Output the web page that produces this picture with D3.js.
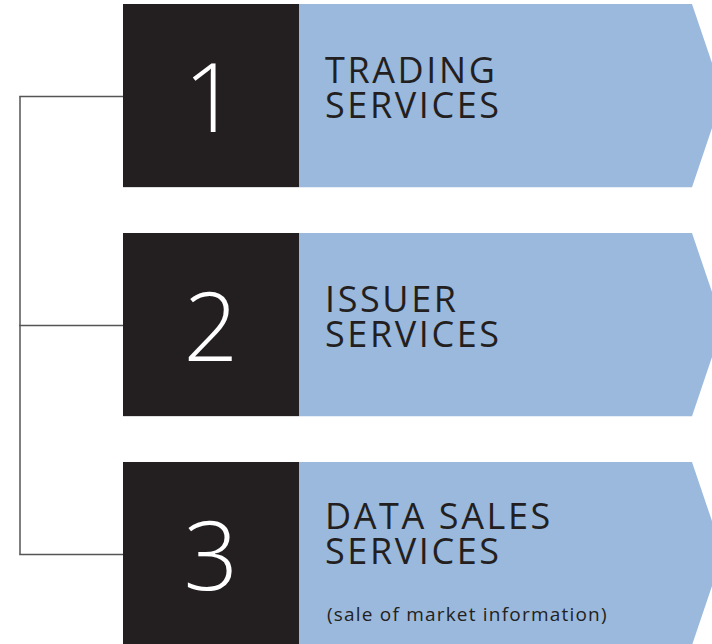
<!DOCTYPE html>
<html>
<head>
<meta charset="utf-8">
<script src="https://cdn.jsdelivr.net/npm/d3@7"></script>
<style>
  html, body { margin: 0; padding: 0; background: #fff; }
  svg { display: block; }
</style>
</head>
<body>
<div id="chart"></div>
<script>
// row content
var numbers = ['1', '2', '3'];
var titleLine1 = ['TRADING', 'ISSUER', 'DATA SALES'];
var titleLine2 = ['SERVICES', 'SERVICES', 'SERVICES'];
var subtitles = ['', '', '(sale of market information)'];

var width = 712,
  height = 644;

var dark = '#231f20',
  blue = '#9ab9dd';

var svg = d3.select('#chart')
  .append('svg')
  .attr('width', width)
  .attr('height', height);

// vertical placement of the three rows
var y = d3.scaleBand()
  .domain(numbers)
  .range([4, 645])
  .paddingInner(0.2)
  .paddingOuter(0);

var boxX = 123, boxW = 176, arrowEnd = 692, tipDepth = 31;

// connector on the left
var mids = numbers.map(function(d) { return Math.round(y(d)) + y.bandwidth() / 2 + 1; });
svg.append('path')
  .attr('d', 'M20,' + mids[0] + 'V' + mids[2])
  .attr('stroke', '#555')
  .attr('stroke-width', 1.5)
  .attr('fill', 'none');
svg.selectAll('line.tick')
  .data(mids)
  .enter()
  .append('line')
  .attr('class', 'tick')
  .attr('x1', 19.25)
  .attr('x2', boxX)
  .attr('y1', function(d) { return d; })
  .attr('y2', function(d) { return d; })
  .attr('stroke', '#555')
  .attr('stroke-width', 1.5);

var row = svg.selectAll('g.row')
  .data(numbers)
  .enter()
  .append('g')
  .attr('class', 'row')
  .attr('transform', function(d) { return 'translate(0,' + Math.round(y(d)) + ')'; });

var h = y.bandwidth();

// blue chevron
row.append('path')
  .attr('d', 'M' + (boxX + boxW) + ',0H' + arrowEnd + 'L' + (arrowEnd + tipDepth) + ',' + (h / 2) +
    'L' + arrowEnd + ',' + h + 'H' + (boxX + boxW) + 'Z')
  .attr('fill', blue);

// dark number box
row.append('rect')
  .attr('x', boxX)
  .attr('y', 0)
  .attr('width', boxW)
  .attr('height', h)
  .attr('fill', dark);

row.append('text')
  .attr('x', boxX + boxW / 2)
  .attr('y', 128)
  .attr('text-anchor', 'middle')
  .attr('fill', '#fff')
  .style('font-family', '"Open Sans", sans-serif')
  .style('font-weight', 300)
  .style('font-size', '96px')
  .text(function(d) { return d; });

// titles, two lines in one text
var titleBase = [79, 79, 67];
var title = row.append('text')
  .attr('fill', dark)
  .style('font-family', '"Open Sans", sans-serif')
  .style('font-weight', 400)
  .style('font-size', '36px')
  .style('letter-spacing', '2.6px');

title.append('tspan')
  .attr('x', 325)
  .attr('y', function(d, i) { return titleBase[i]; })
  .text(function(d, i) { return titleLine1[i]; });

title.append('tspan')
  .attr('x', 325)
  .attr('y', function(d, i) { return titleBase[i] + 35; })
  .text(function(d, i) { return titleLine2[i]; });

row.append('text')
  .attr('x', 327)
  .attr('y', 159)
  .attr('fill', dark)
  .style('font-family', '"Open Sans", sans-serif')
  .style('font-size', '19px')
  .style('letter-spacing', '1.2px')
  .text(function(d, i) { return subtitles[i]; });
</script>
</body>
</html>
